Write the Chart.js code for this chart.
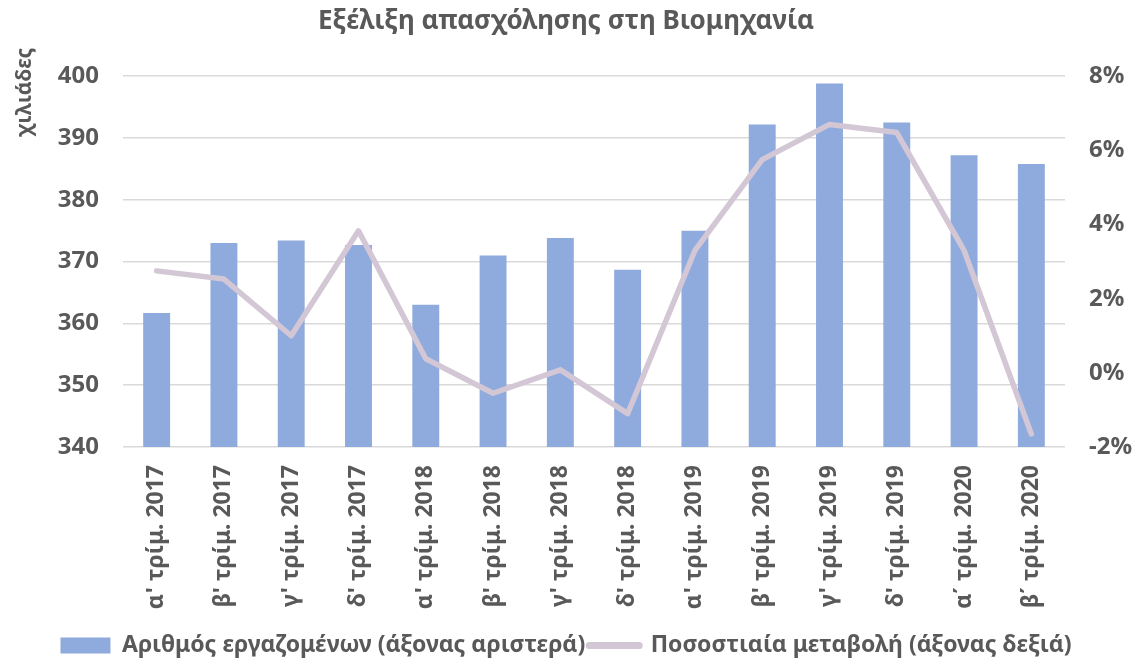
<!DOCTYPE html>
<html>
<head>
<meta charset="utf-8">
<script src="https://cdn.jsdelivr.net/npm/chart.js@4"></script>
<style>
  html, body { margin: 0; padding: 0; background: #fff; }
  #wrap { width: 1132px; height: 660px; }
</style>
</head>
<body>
<div id="wrap"><canvas id="myChart" width="1132" height="660"></canvas></div>
<script>
// categories and series
const quarters = [
  "α' τρίμ. 2017", "β' τρίμ. 2017", "γ' τρίμ. 2017", "δ' τρίμ. 2017",
  "α' τρίμ. 2018", "β' τρίμ. 2018", "γ' τρίμ. 2018", "δ' τρίμ. 2018",
  "α' τρίμ. 2019", "β' τρίμ. 2019", "γ' τρίμ. 2019", "δ' τρίμ. 2019",
  "α΄ τρίμ. 2020", "β΄ τρίμ. 2020"
];
const employed = [361.7, 373.0, 373.4, 372.7, 363.0, 371.0, 373.8, 368.7, 375.0, 392.2, 398.8, 392.5, 387.2, 385.8];
const changePct = [2.75, 2.53, 1.0, 3.83, 0.38, -0.55, 0.08, -1.1, 3.3, 5.75, 6.7, 6.48, 3.3, -1.65];

const leftTicks = [340, 350, 360, 370, 380, 390, 400];
const rightTicks = [-2, 0, 2, 4, 6, 8];

const barLabel = 'Αριθμός εργαζομένων (άξονας αριστερά)';
const lineLabel = 'Ποσοστιαία μεταβολή (άξονας δεξιά)';
const unitLabel = 'χιλιάδες';

const grey = '#595959';
const lineCol = '#D3C6D5';
const fontFam = '"Noto Sans", sans-serif';

// the unit label sits above the top of the left axis, so it is drawn here
const unitTitle = {
  id: 'unitTitle',
  afterDraw(chart) {
    const c = chart.ctx;
    const y = chart.scales.y;
    c.save();
    c.translate(25, y.top + 16);
    c.rotate(-Math.PI / 2);
    c.fillStyle = grey;
    c.font = 'bold 21px ' + fontFam;
    c.textAlign = 'center';
    c.textBaseline = 'middle';
    c.fillText(unitLabel, 0, 0);
    c.restore();
  }
};

const ctx = document.getElementById('myChart');

new Chart(ctx, {
  data: {
    labels: quarters,
    datasets: [
      {
        type: 'line',
        label: lineLabel,
        data: changePct,
        yAxisID: 'yR',
        borderColor: lineCol,
        backgroundColor: lineCol,
        borderWidth: 5.5,
        pointRadius: 0,
        tension: 0,
        borderCapStyle: 'round',
        borderJoinStyle: 'round',
        order: 1
      },
      {
        type: 'bar',
        label: barLabel,
        data: employed,
        yAxisID: 'y',
        backgroundColor: '#8FAADC',
        barPercentage: 0.8,
        categoryPercentage: 0.5,
        order: 2
      }
    ]
  },
  options: {
    responsive: false,
    animation: false,
    layout: { padding: { left: 0, right: 0, top: 0, bottom: -7 } },
    plugins: {
      title: {
        display: true,
        text: 'Εξέλιξη απασχόλησης στη Βιομηχανία',
        color: grey,
        font: { family: fontFam, size: 26, weight: 'bold' },
        padding: { top: 6, bottom: 39 }
      },
      legend: {
        position: 'bottom',
        reverse: true,
        labels: {
          color: grey,
          font: { family: fontFam, size: 23, weight: 'bold' },
          usePointStyle: true,
          pointStyleWidth: 50,
          boxHeight: 16,
          padding: 4,
          generateLabels: (chart) => {
            const items = Chart.defaults.plugins.legend.labels.generateLabels(chart);
            items.forEach((it) => {
              if (it.text === lineLabel) {
                it.pointStyle = 'line';
                it.lineWidth = 7;
                it.lineCap = 'round';
                it.strokeStyle = lineCol;
              } else {
                it.pointStyle = 'rect';
                it.lineWidth = 0;
              }
            });
            return items;
          }
        }
      },
      tooltip: { enabled: false }
    },
    scales: {
      x: {
        grid: { display: false },
        border: { display: false },
        afterFit: (scale) => { scale.height = 183; },
        ticks: {
          color: grey,
          font: { family: fontFam, size: 23, weight: 'bold' },
          minRotation: 90,
          maxRotation: 90,
          autoSkip: false,
          padding: 10
        }
      },
      y: {
        position: 'left',
        min: 340,
        max: 400,
        afterBuildTicks: (scale) => { scale.ticks = leftTicks.map(v => ({ value: v })); },
        afterFit: (scale) => { scale.width = 123; },
        grid: { color: '#D9D9D9', lineWidth: 1.5, drawTicks: false },
        border: { display: false },
        ticks: {
          color: grey,
          font: { family: fontFam, size: 24, weight: 'bold' },
          padding: 24
        }
      },
      yR: {
        position: 'right',
        min: -2,
        max: 8,
        afterBuildTicks: (scale) => { scale.ticks = rightTicks.map(v => ({ value: v })); },
        afterFit: (scale) => { scale.width = 67; },
        grid: { display: false, drawTicks: false },
        border: { display: false },
        ticks: {
          color: grey,
          font: { family: fontFam, size: 24, weight: 'bold' },
          padding: 24,
          callback: (v) => v + '%'
        }
      }
    }
  },
  plugins: [unitTitle]
});
</script>
</body>
</html>
